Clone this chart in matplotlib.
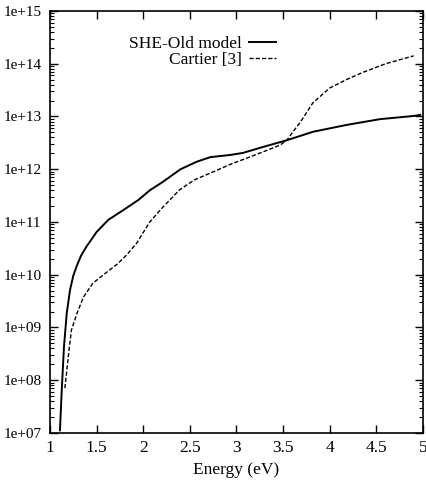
import numpy as np
import matplotlib
matplotlib.use("Agg")
import matplotlib.pyplot as plt
from matplotlib.ticker import LogLocator, NullFormatter

plt.rcParams["font.family"] = "Liberation Serif"

# solid curve: SHE-Old model (energy in eV, log10 of value)
she_energy = [1.107, 1.125, 1.15, 1.18, 1.215, 1.25, 1.286, 1.33, 1.39, 1.50, 1.625, 1.79,
              1.95, 2.07, 2.21, 2.40, 2.57, 2.72, 2.93, 3.07, 3.28, 3.54, 3.82, 4.18,
              4.54, 4.90, 4.97]
she_log = [7.05, 7.76, 8.63, 9.27, 9.71, 9.98, 10.16, 10.35, 10.53, 10.81, 11.04, 11.23,
           11.42, 11.60, 11.76, 12.00, 12.14, 12.23, 12.27, 12.31, 12.42, 12.55, 12.71, 12.84,
           12.95, 13.01, 13.03]

# dashed curve: Cartier [3]
cartier_energy = [1.16, 1.196, 1.23, 1.29, 1.36, 1.46, 1.61, 1.72, 1.82, 1.93, 2.07, 2.21,
                  2.39, 2.55, 2.75, 2.93, 3.11, 3.30, 3.47, 3.54, 3.61, 3.68, 3.82, 4.00,
                  4.18, 4.36, 4.60, 4.90]
cartier_log = [7.85, 8.44, 8.95, 9.27, 9.58, 9.84, 10.05, 10.20, 10.37, 10.60, 11.00, 11.28,
               11.61, 11.80, 11.95, 12.09, 12.21, 12.34, 12.46, 12.55, 12.72, 12.88, 13.26, 13.54,
               13.70, 13.84, 14.00, 14.15]

x_ticks = [1, 1.5, 2, 2.5, 3, 3.5, 4, 4.5, 5]
x_labels = ["1", "1.5", "2", "2.5", "3", "3.5", "4", "4.5", "5"]
y_ticks = [1e7, 1e8, 1e9, 1e10, 1e11, 1e12, 1e13, 1e14, 1e15]
y_labels = ["1e+07", "1e+08", "1e+09", "1e+10", "1e+11", "1e+12", "1e+13", "1e+14", "1e+15"]

fig = plt.figure(figsize=(4.27, 4.93), dpi=100)
ax = fig.add_axes([0.117, 0.1217, 0.8736, 0.856])

ax.plot(she_energy, 10 ** np.array(she_log), color="black", lw=1.4,
        label="SHE-Old model")
ax.plot(cartier_energy, 10 ** np.array(cartier_log), color="black", lw=1.0,
        linestyle=(0, (3, 1.5)), label="Cartier [3]")

ax.set_yscale("log")
ax.set_xlim(1, 5)
ax.set_ylim(1e7, 1e15)
ax.set_xticks(x_ticks)
ax.set_xticklabels(x_labels)
ax.set_yticks(y_ticks)
ax.set_yticklabels(y_labels)
ax.yaxis.set_minor_locator(LogLocator(base=10, subs=np.arange(2, 10)))
ax.yaxis.set_minor_formatter(NullFormatter())

ax.tick_params(which="both", direction="in", top=True, right=True)
ax.tick_params(which="major", length=6, width=1)
ax.tick_params(which="minor", length=3, width=0.8)
ax.tick_params(axis="x", pad=5, labelsize=12.5)
ax.tick_params(axis="y", pad=6, labelsize=11)
for s in ax.spines.values():
    s.set_linewidth(1.2)

ax.set_xlabel("Energy (eV)", fontsize=12.5, labelpad=4)

ax.legend(loc="upper right", bbox_to_anchor=(0.63, 0.962), frameon=False,
          markerfirst=False, fontsize=12.5, handlelength=1.55, handletextpad=0.45,
          labelspacing=0.0, borderpad=0)

fig.savefig("out.png", dpi=100)
